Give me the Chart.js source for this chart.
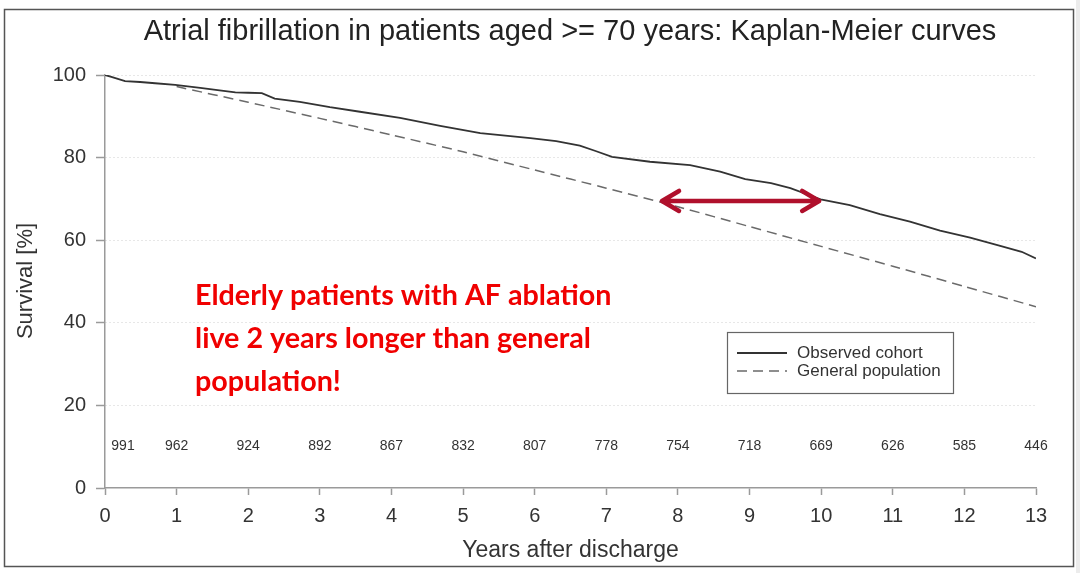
<!DOCTYPE html>
<html>
<head>
<meta charset="utf-8">
<title>Kaplan-Meier curves</title>
<script src="https://cdn.jsdelivr.net/npm/chart.js@4.4.1/dist/chart.umd.min.js"></script>
<style>
  html, body { margin: 0; padding: 0; background: #fff; }
  canvas { display: block; }
</style>
</head>
<body>
<canvas id="km-chart" width="1080" height="573"></canvas>
<script>
// Observed cohort (Kaplan-Meier estimate)
const obsYears = [0, 0.1, 0.28, 0.49, 0.7, 0.98, 1.33, 1.6, 1.82, 2.0, 2.19, 2.37, 2.72, 3.14, 3.56,
    4.12, 4.68, 5.24, 5.94, 6.3, 6.63, 6.85, 7.08, 7.61, 8.17, 8.59, 8.94, 9.3, 9.57, 10.01,
    10.4, 10.82, 11.24, 11.66, 12.08, 12.5, 12.8, 13];
const obsSurvival = [100, 99.5, 98.5, 98.3, 98.0, 97.6, 96.9, 96.3, 95.8, 95.7, 95.6, 94.3, 93.5, 92.2, 91.1,
    89.6, 87.7, 85.9, 84.7, 84.0, 82.9, 81.6, 80.2, 79.0, 78.2, 76.6, 74.8, 73.8, 72.6, 69.8,
    68.5, 66.3, 64.5, 62.3, 60.6, 58.6, 57.2, 55.6];

// General population (expected survival)
const popYears = [1, 2, 3, 4, 5, 6, 7, 8, 9, 10, 11, 12, 13];
const popSurvival = [97.2, 93.4, 89.5, 85.5, 81.4, 77.0, 72.6, 68.1, 63.3, 58.5, 53.7, 48.8, 43.9];

// Numbers at risk per year
const riskYears = [0, 1, 2, 3, 4, 5, 6, 7, 8, 9, 10, 11, 12, 13];
const riskCounts = [991, 962, 924, 892, 867, 832, 807, 778, 754, 718, 669, 626, 585, 446];

// Annotation: 2-year gap at ~69.5 % survival
const gapFrom = [7.75, 69.5];
const gapTo = [10.0, 69.5];
const noteLines = ['Elderly patients with AF ablation', 'live 2 years longer than general', 'population!'];

const titleText = 'Atrial fibrillation in patients aged >= 70 years: Kaplan-Meier curves';
const xTitle = 'Years after discharge';
const yTitle = 'Survival [%]';

const AXIS_FONT = '"Liberation Sans", Arial, sans-serif';
const AXIS_GRAY = '#9a9a9a';

const toPoints = (xs, ys) => xs.map((x, i) => ({ x: x, y: ys[i] }));

const decorPlugin = {
    id: 'decor',
    beforeDraw(chart) {
        const ctx = chart.ctx;
        ctx.save();
        ctx.fillStyle = '#ffffff';
        ctx.fillRect(0, 0, chart.width, chart.height);
        ctx.fillStyle = '#ececec';
        ctx.fillRect(1076, 0, 4, chart.height);
        ctx.strokeStyle = '#555';
        ctx.lineWidth = 1.5;
        ctx.strokeRect(4.5, 9.5, 1069, 557);
        ctx.restore();
    },
    afterDraw(chart) {
        const ctx = chart.ctx;
        const xs = chart.scales.x;
        const ys = chart.scales.y;
        const area = chart.chartArea;
        ctx.save();

        // title
        ctx.fillStyle = '#222';
        ctx.font = `29px ${AXIS_FONT}`;
        ctx.textAlign = 'center';
        ctx.textBaseline = 'middle';
        ctx.fillText(titleText, 570, 32);

        // axis titles
        ctx.font = `23px ${AXIS_FONT}`;
        ctx.fillStyle = '#333';
        ctx.fillText(xTitle, (area.left + area.right) / 2, 551);
        ctx.save();
        ctx.font = `22px ${AXIS_FONT}`;
        ctx.translate(26, 281);
        ctx.rotate(-Math.PI / 2);
        ctx.fillText(yTitle, 0, 0);
        ctx.restore();

        // numbers at risk
        ctx.font = `14px ${AXIS_FONT}`;
        ctx.fillStyle = '#333';
        riskCounts.forEach((n, i) => {
            let px = xs.getPixelForValue(riskYears[i]);
            if (i === 0) px += 18; // first label sits clear of the axis
            ctx.fillText(String(n), px, area.bottom - 42);
        });

        // legend box
        const lx = 727, ly = 332, lw = 226, lh = 61;
        ctx.strokeStyle = '#666';
        ctx.lineWidth = 1.2;
        ctx.strokeRect(lx + 0.5, ly + 0.5, lw, lh);
        ctx.font = `17px ${AXIS_FONT}`;
        ctx.textAlign = 'left';
        chart.data.datasets.forEach((ds, i) => {
            const rowY = ly + 21 + i * 18;
            ctx.strokeStyle = ds.borderColor;
            ctx.lineWidth = ds.borderWidth;
            ctx.setLineDash(ds.borderDash || []);
            ctx.beginPath();
            ctx.moveTo(lx + 10, rowY);
            ctx.lineTo(lx + 60, rowY);
            ctx.stroke();
            ctx.setLineDash([]);
            ctx.fillStyle = '#333';
            ctx.fillText(ds.label, lx + 70, rowY);
        });

        // red note
        ctx.fillStyle = '#f00000';
        ctx.font = 'bold 28.7px Lato, "Open Sans", sans-serif';
        ctx.textBaseline = 'alphabetic';
        noteLines.forEach((line, i) => {
            ctx.fillText(line, 195, 305 + i * 43);
        });

        // double-headed arrow
        const x1 = xs.getPixelForValue(gapFrom[0]);
        const y1 = ys.getPixelForValue(gapFrom[1]);
        const x2 = xs.getPixelForValue(gapTo[0]);
        const y2 = ys.getPixelForValue(gapTo[1]);
        ctx.strokeStyle = '#b0102c';
        ctx.lineWidth = 4.5;
        ctx.lineCap = 'round';
        ctx.lineJoin = 'round';
        ctx.beginPath();
        ctx.moveTo(x1 + 2, y1);
        ctx.lineTo(x2 - 2, y2);
        ctx.moveTo(x1 + 19, y1 - 10);
        ctx.lineTo(x1 + 2, y1);
        ctx.lineTo(x1 + 19, y1 + 10);
        ctx.moveTo(x2 - 19, y2 - 10);
        ctx.lineTo(x2 - 2, y2);
        ctx.lineTo(x2 - 19, y2 + 10);
        ctx.stroke();

        ctx.restore();
    }
};

new Chart(document.getElementById('km-chart'), {
    type: 'line',
    data: {
        datasets: [
            {
                label: 'Observed cohort',
                data: toPoints(obsYears, obsSurvival),
                borderColor: '#333333',
                borderWidth: 1.8,
                pointRadius: 0,
                tension: 0,
                fill: false
            },
            {
                label: 'General population',
                data: toPoints(popYears, popSurvival),
                borderColor: '#6a6a6a',
                borderWidth: 1.5,
                borderDash: [10, 6],
                pointRadius: 0,
                tension: 0.2,
                fill: false
            }
        ]
    },
    options: {
        responsive: false,
        animation: false,
        layout: { padding: { left: 0, right: 44, top: 75, bottom: 0 } },
        plugins: {
            legend: { display: false },
            title: { display: false },
            tooltip: { enabled: false }
        },
        scales: {
            x: {
                type: 'linear',
                min: 0,
                max: 13,
                afterFit: (scale) => { scale.height = 85; },
                ticks: {
                    stepSize: 1,
                    color: '#333',
                    font: { size: 20, family: AXIS_FONT },
                    padding: 9,
                    maxRotation: 0
                },
                grid: {
                    drawOnChartArea: false,
                    tickLength: 7,
                    tickColor: AXIS_GRAY,
                    tickWidth: 1.5
                },
                border: { color: AXIS_GRAY, width: 1.5 }
            },
            y: {
                min: 0,
                max: 100,
                afterFit: (scale) => { scale.width = 105; },
                ticks: {
                    stepSize: 20,
                    color: '#333',
                    font: { size: 20, family: AXIS_FONT },
                    padding: 10
                },
                grid: {
                    color: (c) => (c.tick && c.tick.value === 0 ? 'rgba(0,0,0,0)' : '#cfcfcf'),
                    lineWidth: 1,
                    tickLength: 9,
                    tickColor: AXIS_GRAY,
                    tickWidth: 1.5,
                    tickBorderDash: []
                },
                border: { color: AXIS_GRAY, width: 1.5, dash: [1, 3] }
            }
        }
    },
    plugins: [decorPlugin]
});
</script>
</body>
</html>
